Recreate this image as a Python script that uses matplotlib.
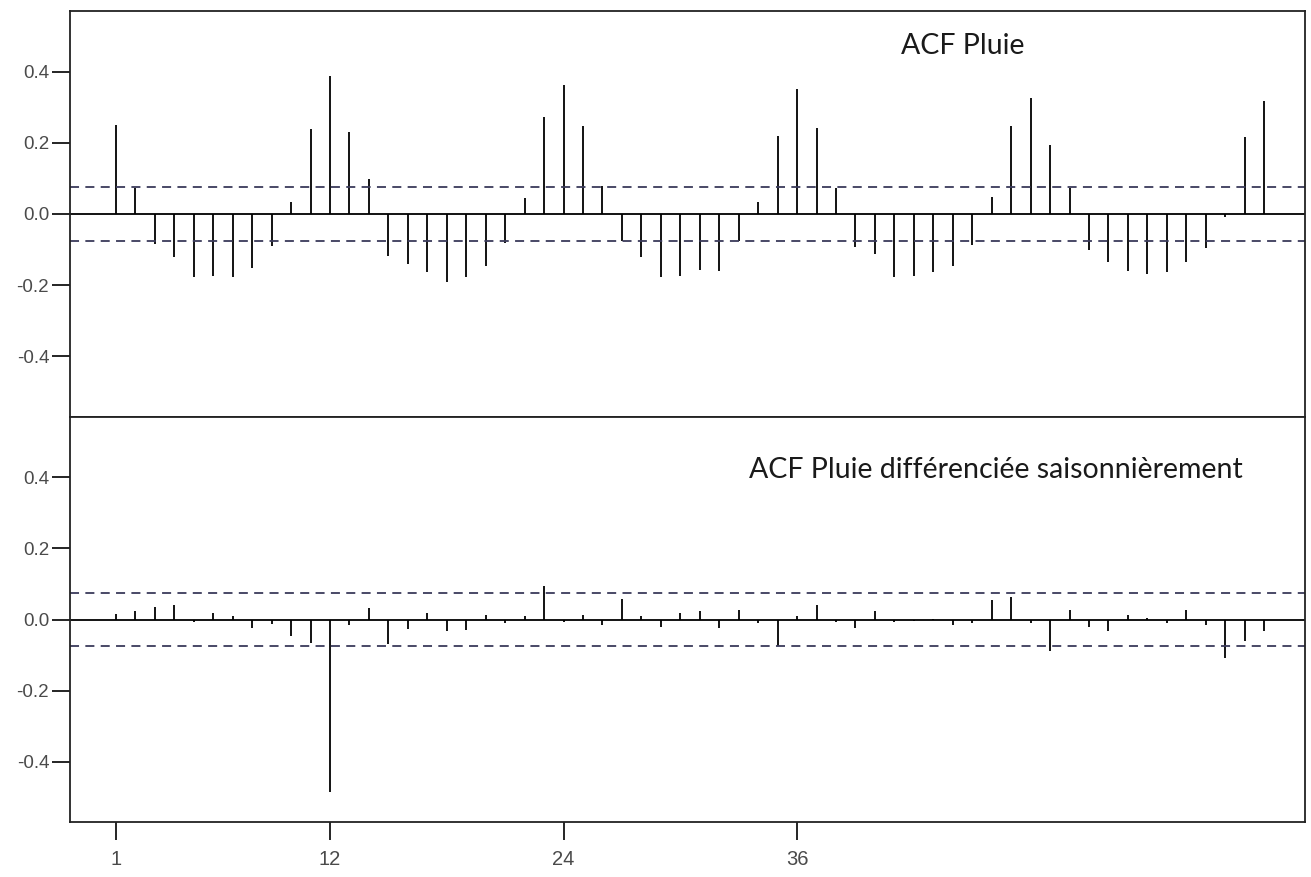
import matplotlib.pyplot as plt
import numpy as np

# lags 1..60
lags = np.arange(1, 61)

acf_pluie = [
    0.251, 0.074, -0.085, -0.120, -0.178, -0.175, -0.178, -0.153, -0.089, 0.035,
    0.238, 0.387, 0.229, 0.098, -0.117, -0.139, -0.164, -0.191, -0.178, -0.146,
    -0.081, 0.044, 0.272, 0.361, 0.246, 0.079, -0.076, -0.122, -0.178, -0.175,
    -0.156, -0.160, -0.076, 0.035, 0.220, 0.351, 0.241, 0.074, -0.094, -0.111,
    -0.177, -0.174, -0.164, -0.146, -0.088, 0.049, 0.246, 0.326, 0.193, 0.074,
    -0.100, -0.134, -0.161, -0.169, -0.164, -0.134, -0.095, -0.008, 0.216, 0.316,
]

acf_diff = [
    0.015, 0.023, 0.036, 0.041, -0.007, 0.019, 0.009, -0.025, -0.012, -0.047,
    -0.066, -0.485, -0.016, 0.031, -0.070, -0.028, 0.019, -0.033, -0.029, 0.014,
    -0.011, 0.009, 0.094, -0.007, 0.014, -0.016, 0.057, 0.009, -0.021, 0.019,
    0.023, -0.024, 0.026, -0.011, -0.075, 0.009, 0.040, -0.007, -0.024, 0.023,
    -0.007, -0.005, 0.001, -0.016, -0.011, 0.054, 0.062, -0.011, -0.089, 0.026,
    -0.021, -0.033, 0.014, 0.005, -0.011, 0.026, -0.016, -0.108, -0.060, -0.033,
]

conf_band = 0.075
titles = ["ACF Pluie", "ACF Pluie différenciée saisonnièrement"]
x_ticks = [1, 12, 24, 36]
y_ticks = [-0.4, -0.2, 0.0, 0.2, 0.4]

W, H = 1311, 877
fig = plt.figure(figsize=(W / 100, H / 100), dpi=100)
plt.rcParams['font.family'] = ['Liberation Sans', 'DejaVu Sans']

left, right = 70 / W, 1305 / W
top_y, mid_y, bot_y = 11 / H, 417 / H, 822 / H

ax1 = fig.add_axes([left, 1 - mid_y, right - left, mid_y - top_y])
ax2 = fig.add_axes([left, 1 - bot_y, right - left, bot_y - mid_y])

tick_color = "#4a4a4a"
for ax, vals, title, tx, ty in [
    (ax1, acf_pluie, titles[0], 948 / W, 0.915),
    (ax2, acf_diff, titles[1], 983 / W, 0.868),
]:
    ax.vlines(lags, 0, vals, color="black", linewidth=1.3)
    ax.axhline(0, color="black", linewidth=1.3)
    ax.axhline(conf_band, color="#3a3a5a", linewidth=1.3, linestyle=(0, (5, 3.5)))
    ax.axhline(-conf_band, color="#3a3a5a", linewidth=1.3, linestyle=(0, (5, 3.5)))
    ax.set_xlim(-1.36, 62.1)
    ax.set_ylim(-0.57, 0.57)
    ax.set_yticks(y_ticks)
    ax.set_yticklabels([f"{t:.1f}" for t in y_ticks])
    ax.tick_params(axis="y", direction="out", length=13, width=1.2,
                   labelsize=13.5, labelcolor=tick_color, pad=2)
    for s in ax.spines.values():
        s.set_linewidth(1.3)
        s.set_color("#222222")
    ax.text(tx, ty, title, transform=ax.transAxes, ha="center", va="center",
            fontsize=20.5, family="Lato", color="#1a1a1a")

ax1.set_xticks([])
ax2.set_xticks(x_ticks)
ax2.set_xticklabels([str(t) for t in x_ticks])
ax2.tick_params(axis="x", direction="out", length=13, width=1.2,
                labelsize=14.5, labelcolor=tick_color, pad=7)

fig.savefig("out.png", dpi=100)
